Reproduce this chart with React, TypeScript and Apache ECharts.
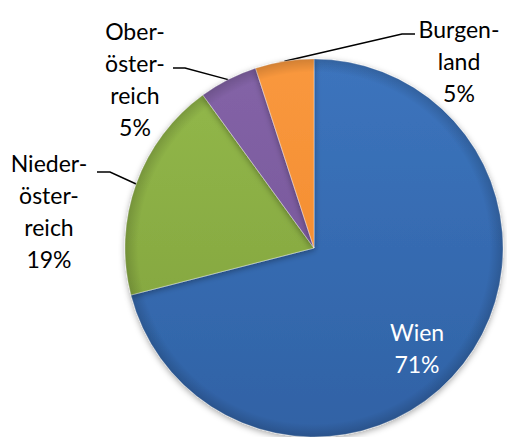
import React, { useEffect, useRef } from "react";
import * as echarts from "echarts";

// ---- data ----
const categories = ["Wien", "Niederösterreich", "Oberösterreich", "Burgenland"];
const labelTexts = ["Wien", "Nieder-\nöster-\nreich", "Ober-\nöster-\nreich", "Burgen-\nland"];
const values = [71, 19, 5, 5];

// ---- styles ----
const sliceColors = [
  ["#3C74BD", "#3062A5"],
  ["#93B94A", "#7F9F3C"],
  ["#8464A7", "#704F94"],
  ["#F9983E", "#F08628"],
];
const CX = 314;
const CY = 248;
const R = 189;
// label anchors: center of label block, end of leader line and elbow offset
const labelPlacement: { x: number; y: number; end?: [number, number]; elbow?: number }[] = [
  { x: 417, y: 348 },
  { x: 49, y: 211, end: [97, 172], elbow: 13 },
  { x: 135, y: 79, end: [173, 68], elbow: 12 },
  { x: 459, y: 61, end: [415, 34], elbow: -13 },
];

export default function App() {
  const ref = useRef<HTMLDivElement>(null);
  useEffect(() => {
    document.body.style.margin = "0";
    const chart = echarts.init(ref.current!, null, { renderer: "svg" });
    const data = categories.map((name, i) => ({
      name,
      value: values[i],
      itemStyle: {
        color: {
          type: "linear",
          x: 0,
          y: CY - R,
          x2: 0,
          y2: CY + R,
          global: true,
          colorStops: [
            { offset: 0, color: sliceColors[i][0] },
            { offset: 1, color: sliceColors[i][1] },
          ],
        },
      },
      label: i === 0 ? { color: "#ffffff" } : { color: "#000000" },
      labelLine: { show: i !== 0 },
    }));
    const rimData = categories.map((name, i) => ({ name, value: values[i] }));
    chart.setOption({
      animation: false,
      series: [
        {
          type: "pie",
          z: 2,
          center: [CX, CY],
          radius: [0, R],
          startAngle: 90,
          clockwise: true,
          avoidLabelOverlap: false,
          percentPrecision: 0,
          data,
          itemStyle: {
            borderColor: "rgba(255,255,255,0.35)",
            borderWidth: 1,
            shadowBlur: 6,
            shadowColor: "rgba(0,0,0,0.35)",
            shadowOffsetY: 2,
          },
          label: {
            show: true,
            position: "outside",
            fontFamily: "Lato",
            fontSize: 23,
            lineHeight: 32,
            align: "center",
            formatter: (p: any) => `${labelTexts[p.dataIndex]}\n${p.percent}%`,
          },
          labelLine: {
            show: true,
            length: 10,
            length2: 10,
            lineStyle: { color: "#000", width: 1.5 },
          },
          labelLayout: (params: any) => {
            const pl = labelPlacement[params.dataIndex];
            const out: any = { x: pl.x, y: pl.y, align: "center", verticalAlign: "middle" };
            if (pl.end && params.labelLinePoints) {
              const p0 = params.labelLinePoints[0];
              out.labelLinePoints = [
                [p0[0], p0[1]],
                [pl.end[0] + (pl.elbow || 0), pl.end[1]],
                [pl.end[0], pl.end[1]],
              ];
            }
            return out;
          },
        },
        {
          type: "pie",
          silent: true,
          z: 3,
          center: [CX, CY],
          radius: [0, R],
          startAngle: 90,
          clockwise: true,
          data: rimData,
          label: { show: false },
          labelLine: { show: false },
          itemStyle: {
            borderWidth: 0,
            color: {
              type: "radial",
              x: CX,
              y: CY,
              r: R,
              global: true,
              colorStops: [
                { offset: 0, color: "rgba(0,0,0,0)" },
                { offset: 0.93, color: "rgba(0,0,0,0)" },
                { offset: 1, color: "rgba(0,0,0,0.16)" },
              ],
            },
          },
        },
      ],
    });
    return () => chart.dispose();
  }, []);
  return <div ref={ref} style={{ width: 507, height: 437 }} />;
}
